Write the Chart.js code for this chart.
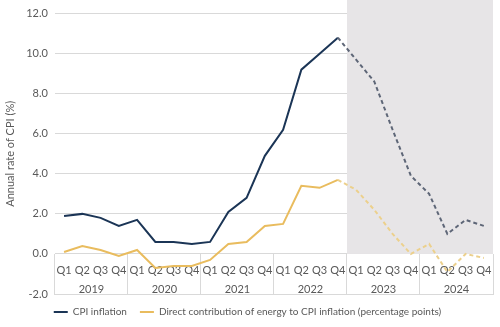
<!DOCTYPE html>
<html>
<head>
<meta charset="utf-8">
<script src="https://cdn.jsdelivr.net/npm/chart.js@4"></script>
<style>
  html, body { margin: 0; padding: 0; background: #fff; }
  #wrap { width: 500px; height: 327px; }
</style>
</head>
<body>
<div id="wrap"><canvas id="myChart"></canvas></div>
<script>
const quarters = ['Q1', 'Q2', 'Q3', 'Q4', 'Q1', 'Q2', 'Q3', 'Q4', 'Q1', 'Q2', 'Q3', 'Q4',
  'Q1', 'Q2', 'Q3', 'Q4', 'Q1', 'Q2', 'Q3', 'Q4', 'Q1', 'Q2', 'Q3', 'Q4'];
const years = ['2019', '2020', '2021', '2022', '2023', '2024'];
const cpiInflation = [1.9, 2.0, 1.8, 1.4, 1.7, 0.6, 0.6, 0.5, 0.6, 2.1, 2.8, 4.9,
  6.2, 9.2, 10.0, 10.8, 9.7, 8.6, 6.2, 3.9, 3.0, 1.0, 1.7, 1.4];
const energyContribution = [0.1, 0.4, 0.2, -0.1, 0.2, -0.7, -0.6, -0.6, -0.3, 0.5, 0.6, 1.4,
  1.5, 3.4, 3.3, 3.7, 3.2, 2.2, 1.0, 0.0, 0.5, -0.9, 0.0, -0.2];
const lastActual = 15; // Q4 2022, forecast afterwards

const fontFamily = "Lato, 'Open Sans', sans-serif";
const textColor = '#595959';
const gridColor = '#d9d9d9';

const ctx = document.getElementById('myChart');

// grey box behind the forecast quarters
const forecastShade = {
  id: 'forecastShade',
  beforeDatasetsDraw(chart) {
    const x = chart.scales.x;
    const y = chart.scales.y;
    const left = (x.getPixelForValue(lastActual) + x.getPixelForValue(lastActual + 1)) / 2;
    const right = chart.chartArea.right;
    const bottom = y.getPixelForValue(0);
    const c = chart.ctx;
    c.save();
    c.fillStyle = '#e7e5e7';
    c.fillRect(left, 0, right - left, bottom);
    c.restore();
  }
};

new Chart(ctx, {
  type: 'line',
  data: {
    labels: quarters,
    datasets: [{
      label: 'CPI inflation',
      data: cpiInflation,
      borderColor: '#1b3556',
      backgroundColor: '#1b3556',
      borderWidth: 2,
      pointRadius: 0,
      tension: 0,
      segment: {
        borderColor: c => c.p0DataIndex >= lastActual ? '#5e6677' : undefined,
        borderDash: c => c.p0DataIndex >= lastActual ? [4, 3] : undefined
      }
    }, {
      label: 'Direct contribution of energy to CPI inflation (percentage points)',
      data: energyContribution,
      borderColor: '#e9bc5e',
      backgroundColor: '#e9bc5e',
      borderWidth: 2,
      pointRadius: 0,
      tension: 0,
      segment: {
        borderColor: c => c.p0DataIndex >= lastActual ? '#ecd08c' : undefined,
        borderDash: c => c.p0DataIndex >= lastActual ? [4, 3] : undefined
      }
    }]
  },
  options: {
    responsive: true,
    maintainAspectRatio: false,
    animation: false,
    layout: { padding: { top: 4, right: 7, left: 2, bottom: 0 } },
    plugins: {
      legend: {
        position: 'bottom',
        labels: {
          usePointStyle: true,
          pointStyle: 'line',
          pointStyleWidth: 14,
          boxHeight: 2,
          padding: 13,
          color: textColor,
          font: { family: fontFamily, size: 10 }
        }
      },
      tooltip: { enabled: false }
    },
    scales: {
      x: {
        position: { y: 0 },
        offset: true,
        grid: { display: false },
        border: { display: false },
        ticks: {
          color: textColor,
          font: { family: fontFamily, size: 11 },
          padding: 2,
          maxRotation: 0,
          autoSkip: false
        }
      },
      x2: {
        type: 'category',
        labels: years,
        position: { y: 0 },
        offset: true,
        grid: {
          offset: true,
          drawOnChartArea: false,
          drawTicks: true,
          tickLength: 41,
          color: gridColor
        },
        border: { display: false },
        ticks: {
          color: textColor,
          font: { family: fontFamily, size: 11 },
          padding: -12,
          maxRotation: 0
        }
      },
      y: {
        min: -2,
        max: 12,
        grid: { color: gridColor, drawTicks: false },
        border: { display: false },
        ticks: {
          stepSize: 2,
          padding: 7,
          color: textColor,
          font: { family: fontFamily, size: 11 },
          callback: v => Number(v).toFixed(1)
        },
        title: {
          display: true,
          text: 'Annual rate of CPI (%)',
          color: textColor,
          font: { family: fontFamily, size: 11 },
          padding: 2
        }
      }
    }
  },
  plugins: [forecastShade]
});
</script>
</body>
</html>
